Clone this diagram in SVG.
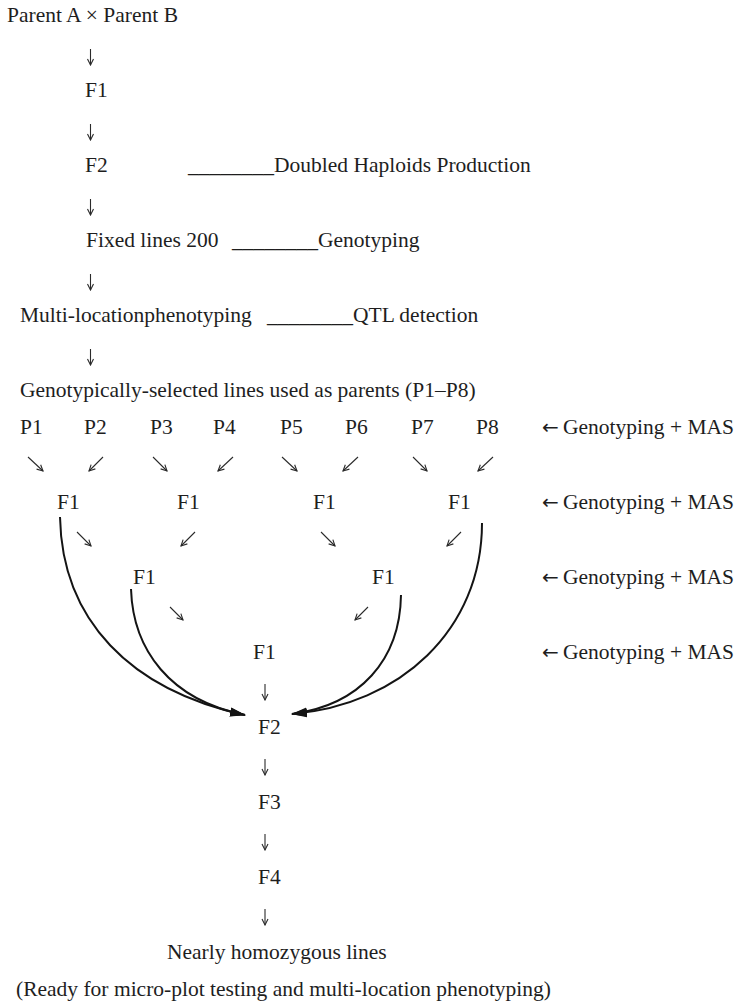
<svg xmlns="http://www.w3.org/2000/svg" width="735" height="1002" viewBox="0 0 735 1002">
<style>
text{font-family:"Liberation Serif","Times New Roman","DejaVu Serif",serif;font-size:21.5px;fill:#1e1e1e}
.ar{font-family:"DejaVu Sans","Noto Sans",sans-serif;font-size:20px}
.sa{fill:none;stroke:#2a2a2a;stroke-width:1.1}
.cv{fill:none;stroke:#141414;stroke-width:2}
</style>
<defs>
<marker id="sh" viewBox="-8 -5 9 10" refX="0" refY="0" markerWidth="9" markerHeight="10" markerUnits="userSpaceOnUse" orient="auto"><path d="M-6,-3 L0,0 L-6,3" fill="none" stroke="#2a2a2a" stroke-width="1.1"/></marker>
<marker id="ah" viewBox="0 0 16 10" refX="15" refY="5" markerWidth="16" markerHeight="10" markerUnits="userSpaceOnUse" orient="auto"><path d="M0,0.5 L16,5 L0,9.5 Z" fill="#141414"/></marker>
</defs>
<rect width="735" height="1002" fill="#fff"/>
<g id="n-cross"><text x="7" y="22">Parent A × Parent B</text></g>
<g id="n-f1-top"><text x="85" y="97">F1</text></g>
<g id="n-f2-top"><text x="85" y="172">F2</text></g>
<g id="n-dh"><text x="188" y="172">________Doubled Haploids Production</text></g>
<g id="n-fixed"><text x="86" y="247">Fixed lines 200</text></g>
<g id="n-geno"><text x="232" y="247">________Genotyping</text></g>
<g id="n-multi"><text x="20" y="322">Multi-locationphenotyping</text></g>
<g id="n-qtl"><text x="267" y="322">________QTL detection</text></g>
<g id="n-selected"><text x="20" y="397">Genotypically-selected lines used as parents (P1–P8)</text></g>
<g id="n-p1"><text x="20" y="434">P1</text></g>
<g id="n-p2"><text x="84" y="434">P2</text></g>
<g id="n-p3"><text x="150" y="434">P3</text></g>
<g id="n-p4"><text x="213" y="434">P4</text></g>
<g id="n-p5"><text x="280" y="434">P5</text></g>
<g id="n-p6"><text x="345" y="434">P6</text></g>
<g id="n-p7"><text x="411" y="434">P7</text></g>
<g id="n-p8"><text x="476" y="434">P8</text></g>
<g id="n-mas1"><text x="542" y="434"><tspan class="ar">←</tspan><tspan x="563">Genotyping + MAS</tspan></text></g>
<g id="n-f1a"><text x="57" y="509">F1</text></g>
<g id="n-f1b"><text x="177" y="509">F1</text></g>
<g id="n-f1c"><text x="313" y="509">F1</text></g>
<g id="n-f1d"><text x="448" y="509">F1</text></g>
<g id="n-mas2"><text x="542" y="509"><tspan class="ar">←</tspan><tspan x="563">Genotyping + MAS</tspan></text></g>
<g id="n-f1e"><text x="133" y="584">F1</text></g>
<g id="n-f1f"><text x="372" y="584">F1</text></g>
<g id="n-mas3"><text x="542" y="584"><tspan class="ar">←</tspan><tspan x="563">Genotyping + MAS</tspan></text></g>
<g id="n-f1g"><text x="253" y="659">F1</text></g>
<g id="n-mas4"><text x="542" y="659"><tspan class="ar">←</tspan><tspan x="563">Genotyping + MAS</tspan></text></g>
<g id="n-f2"><text x="258" y="734">F2</text></g>
<g id="n-f3"><text x="258" y="809">F3</text></g>
<g id="n-f4"><text x="258" y="884">F4</text></g>
<g id="n-nearly"><text x="167" y="959">Nearly homozygous lines</text></g>
<g id="n-ready"><text x="16" y="996">(Ready for micro-plot testing and multi-location phenotyping)</text></g>
<g id="connectors">
<g class="sa" marker-end="url(#sh)">
<path d="M90.5,49V65"/><path d="M90.5,124V140"/><path d="M90.5,199V215"/><path d="M90.5,274V290"/><path d="M90.5,349V365"/>
<path d="M28,457L43,471"/><path d="M103,457L89,471"/><path d="M153,457L167,471"/><path d="M233,457L218,471"/>
<path d="M282,457L297,471"/><path d="M358,457L343,471"/><path d="M413,457L427,471"/><path d="M493,457L478,471"/>
<path d="M77,532L91,546"/><path d="M195,532L181,546"/><path d="M321,532L335,546"/><path d="M461,532L447,546"/>
<path d="M170,607L183,620"/><path d="M368,607L355,620"/>
<path d="M265,684V700"/><path d="M265,759V775"/><path d="M265,834V850"/><path d="M265,909V925"/>
</g>
<g class="cv" marker-end="url(#ah)">
<path d="M60,517C62,620 130,690 245,715"/>
<path d="M131,589C133,650 170,700 245,715"/>
<path d="M401,595C400,660 360,705 292,714"/>
<path d="M482,523C482,630 400,705 292,714"/>
</g>
</g>
</svg>
